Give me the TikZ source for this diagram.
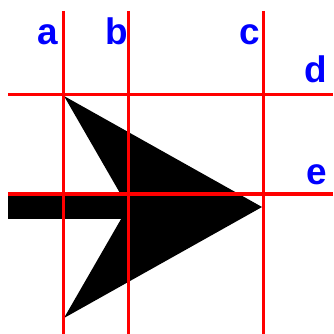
\documentclass[tikz,border=0pt]{standalone}
\usepackage{fontspec}
\setmainfont{Liberation Sans}
\usetikzlibrary{positioning}

\begin{document}
\begin{tikzpicture}[
    x=0.01cm, y=-0.01cm,
    guide/.style={draw=red, line width=0.03cm},
    letter/.style={text=blue, inner sep=0pt, anchor=base,
                   font=\bfseries\fontsize{10.5}{12}\selectfont},
    arrowfill/.style={fill=black}
  ]
  \useasboundingbox (0,0) rectangle (333,334);

  % Arrow (shaft and head)
  \coordinate (tail)  at (8,207);
  \coordinate (notch) at (128,207);
  \coordinate (tip)   at (262,207);
  \coordinate (barbt) at (64,96);
  \coordinate (barbb) at (64,318);
  \fill[arrowfill] ([yshift=3.4pt]tail) rectangle ([yshift=-3.4pt]notch);
  \fill[arrowfill] (barbt) -- (tip) -- (barbb) -- (notch) -- cycle;

  % Vertical guides
  \foreach \n/\x in {a/63, b/128, c/263}
    \draw[guide] (\x,11) coordinate (\n top) -- (\x,334) coordinate (\n bot);

  % Horizontal guides
  \foreach \n/\y in {d/95, e/194}
    \draw[guide] (8,\y) coordinate (\n left) -- (333,\y) coordinate (\n right);

  % Labels
  \node[letter] (la) at (48,45)  {a};
  \node[letter] (lb) at (117,45) {b};
  \node[letter] (lc) at (250,45) {c};
  \node[letter] (ld) at (316,83) {d};
  \node[letter] (le) at (317,185) {e};
\end{tikzpicture}
\end{document}
